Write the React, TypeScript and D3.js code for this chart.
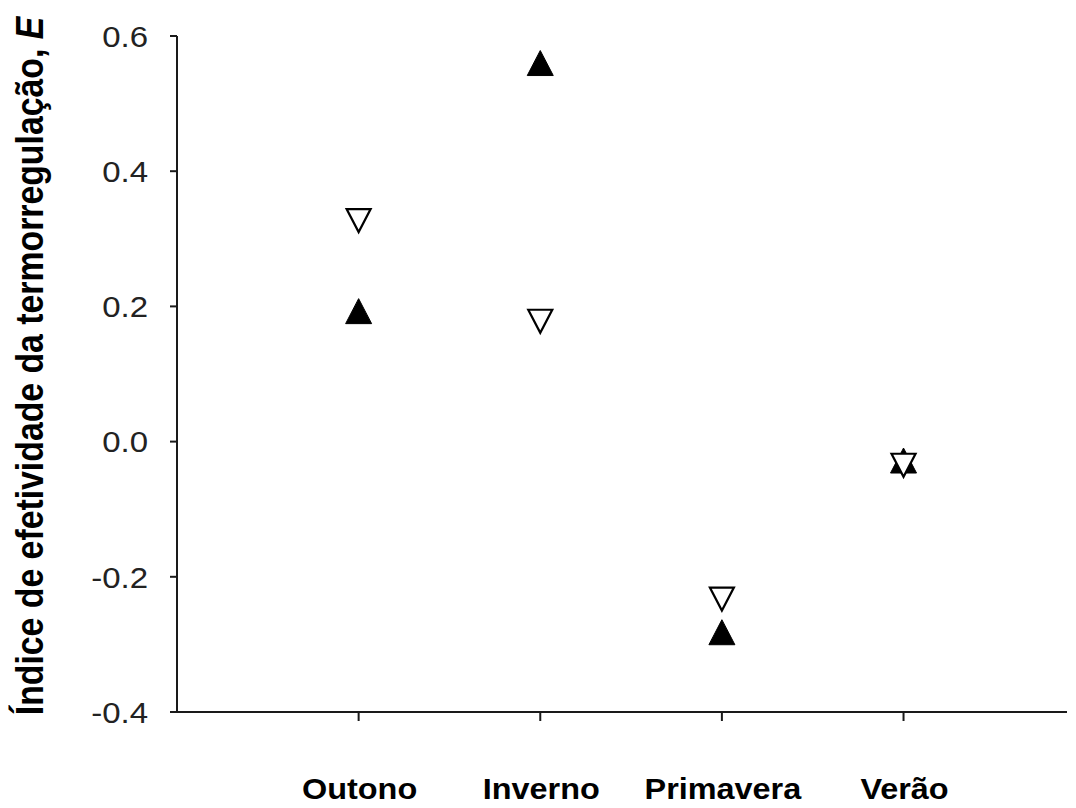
import React from "react";
import * as d3 from "d3";

const categories = ["Outono", "Inverno", "Primavera", "Verão"];
const filledUp = [0.193, 0.56, -0.282, -0.028];
const openDown = [0.327, 0.178, -0.233, -0.035];
const yTicks = [-0.4, -0.2, 0.0, 0.2, 0.4, 0.6];
const yLabel = "Índice de efetividade da termorregulação, ";
const yLabelItalic = "E";

const W = 1076;
const H = 808;

export default function App() {
  const x = d3.scaleLinear().domain([0, 4.9]).range([177, 1067]);
  const y = d3.scaleLinear().domain([-0.4, 0.6]).range([712, 36]);
  const axisColor = "#1a1a1a";
  const tw = 26;
  const th = 25;
  const up = (cx: number, cy: number) =>
    d3.line()([
      [cx, cy - th / 2],
      [cx + tw / 2, cy + th / 2],
      [cx - tw / 2, cy + th / 2],
      [cx, cy - th / 2],
    ]) + "Z";
  const down = (cx: number, cy: number) => {
    const w = tw - 2;
    const h = th - 2;
    return (
      d3.line()([
        [cx - w / 2, cy - h / 2],
        [cx + w / 2, cy - h / 2],
        [cx, cy + h / 2],
        [cx - w / 2, cy - h / 2],
      ]) + "Z"
    );
  };

  return (
    <svg
      width={W}
      height={H}
      style={{ position: "absolute", left: 0, top: 0, background: "#fff" }}
      fontFamily="Liberation Sans, Arial, sans-serif"
    >
      <rect x={0} y={0} width={W} height={H} fill="#fff" />
      {/* y axis */}
      <line x1={x(0)} x2={x(0)} y1={y(0.6)} y2={y(-0.4)} stroke={axisColor} strokeWidth={2} />
      {yTicks.map((t) => (
        <g key={t}>
          <line x1={x(0) - 7} x2={x(0)} y1={y(t)} y2={y(t)} stroke={axisColor} strokeWidth={2} />
          <g transform={`translate(148,${y(t)}) scale(1.1,1)`}>
            <text x={0} y={0} dy="0.36em" textAnchor="end" fontSize={30} fill="#222">
              {t.toFixed(1)}
            </text>
          </g>
        </g>
      ))}
      {/* x axis */}
      <line x1={x(0) - 7} x2={x(4.9)} y1={y(-0.4)} y2={y(-0.4)} stroke={axisColor} strokeWidth={2} />
      {categories.map((c, i) => (
        <g key={c}>
          <line x1={x(i + 1)} x2={x(i + 1)} y1={y(-0.4)} y2={y(-0.4) + 9} stroke={axisColor} strokeWidth={2} />
          <g transform={`translate(${x(i + 1) + 1},799) scale(1.08,1)`}>
            <text x={0} y={0} textAnchor="middle" fontSize={30} fontWeight="bold" fill="#000">
              {c}
            </text>
          </g>
        </g>
      ))}
      {/* y label */}
      <g transform={`translate(43,366) scale(1.15,1) rotate(-90)`}>
        <text x={0} y={0} textAnchor="middle" fontSize={33.8} fontWeight="bold" fill="#000">
          {yLabel}
          <tspan fontStyle="italic">{yLabelItalic}</tspan>
        </text>
      </g>
      {/* markers */}
      {filledUp.map((v, i) => (
        <path key={"f" + i} d={up(x(i + 1), y(v))} fill="#000" stroke="#000" strokeWidth={1} />
      ))}
      {openDown.map((v, i) => (
        <path key={"o" + i} d={down(x(i + 1), y(v))} fill="#fff" stroke="#000" strokeWidth={2.2} strokeLinejoin="miter" />
      ))}
    </svg>
  );
}
